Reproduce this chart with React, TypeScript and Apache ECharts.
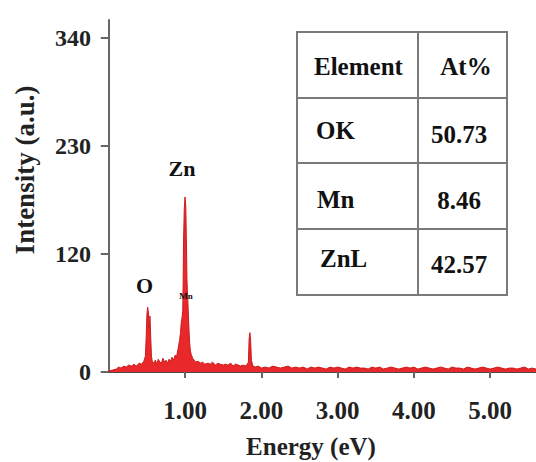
import React, { useEffect, useRef } from "react";
import * as echarts from "echarts";

// Spectrum points: energy (eV) and intensity (a.u.)
const energies: number[] = [
  0.0, 0.05, 0.1, 0.13, 0.16, 0.2, 0.23, 0.26, 0.3, 0.33, 0.36, 0.4, 0.43, 0.46, 0.48, 0.49, 0.5, 0.51, 0.52,
  0.53, 0.54, 0.55, 0.56, 0.57, 0.59, 0.61, 0.63, 0.65, 0.67, 0.69, 0.71, 0.73, 0.75, 0.77, 0.79, 0.81, 0.83,
  0.85, 0.87, 0.89, 0.91, 0.93, 0.94, 0.95, 0.96, 0.97, 0.975, 0.98, 0.99, 1.0, 1.01, 1.02, 1.025, 1.03, 1.04,
  1.05, 1.06, 1.07, 1.08, 1.1, 1.12, 1.14, 1.17, 1.2, 1.23, 1.26, 1.3, 1.33, 1.36, 1.4, 1.43, 1.46, 1.5,
  1.53, 1.56, 1.6, 1.63, 1.66, 1.7, 1.73, 1.76, 1.8, 1.83, 1.84, 1.85, 1.86, 1.87, 1.89, 1.92, 1.96, 2.0,
  2.05, 2.1, 2.15, 2.2, 2.25, 2.3, 2.35, 2.4, 2.45, 2.5, 2.55, 2.6, 2.65, 2.7, 2.75, 2.8, 2.85, 2.9, 2.95,
  3.0, 3.05, 3.1, 3.15, 3.2, 3.25, 3.3, 3.35, 3.4, 3.45, 3.5, 3.55, 3.6, 3.65, 3.7, 3.75, 3.8, 3.85, 3.9,
  3.95, 4.0, 4.05, 4.1, 4.15, 4.2, 4.25, 4.3, 4.35, 4.4, 4.45, 4.5, 4.55, 4.6, 4.65, 4.7, 4.75, 4.8, 4.85,
  4.9, 4.95, 5.0, 5.05, 5.1, 5.15, 5.2, 5.25, 5.3, 5.35, 5.4, 5.45, 5.5, 5.55, 5.6,
];
const intensities: number[] = [
  1, 2, 3, 5, 4, 6, 5, 7, 6, 8, 6, 9, 8, 11, 16, 34, 58, 66, 60,
  44, 57, 36, 16, 11, 9, 12, 8, 13, 10, 9, 14, 10, 12, 9, 13, 11, 15,
  12, 17, 16, 24, 33, 40, 50, 55, 62, 90, 132, 166, 178, 168, 122, 95, 84, 66,
  46, 30, 22, 18, 14, 12, 10, 11, 9, 10, 8, 9, 8, 10, 7, 9, 8, 7,
  8, 7, 9, 6, 8, 7, 6, 7, 6, 10, 34, 40, 32, 12, 6, 5, 6, 4,
  5, 4, 6, 5, 4, 5, 6, 4, 5, 4, 5, 3, 5, 4, 5, 4, 3, 5, 4,
  5, 4, 3, 5, 4, 5, 4, 4, 3, 5, 4, 5, 3, 4, 5, 4, 3, 4, 5,
  4, 5, 3, 4, 5, 4, 3, 4, 5, 4, 3, 5, 4, 4, 3, 5, 4, 3, 4,
  5, 4, 3, 4, 5, 4, 3, 4, 4, 3, 4, 5, 3, 4, 3,
];

const xTickValues: number[] = [1, 2, 3, 4, 5];
const yTickValues: number[] = [0, 120, 230, 340];

const tableHeader: string[] = ["Element", "At%"];
const tableElements: string[] = ["OK", "Mn", "ZnL"];
const tablePercents: string[] = ["50.73", "8.46", "42.57"];

const peakLabels: { name: string; energy: number; value: number; offset: number[]; size: number }[] = [
  { name: "Zn", energy: 1.0, value: 178, offset: [-3, -28], size: 22 },
  { name: "O", energy: 0.51, value: 66, offset: [-3, -22], size: 22 },
  { name: "Mn", energy: 1.0, value: 53, offset: [1, -24], size: 9 },
];

const FONT = "Liberation Serif";

export default function App() {
  const ref = useRef<HTMLDivElement>(null);
  useEffect(() => {
    if (!ref.current) return;
    const chart = echarts.init(ref.current, undefined, { renderer: "svg" });
    const data = energies.map((e, i) => [e, intensities[i]]);

    const tx = 297, ty = 32, tw = 210;
    const colX = 418;
    const rowYs = [32, 98, 163, 229, 295];
    const lineColor = "#7a7a7a";
    const tableEls: any[] = [
      { type: "rect", shape: { x: tx, y: ty, width: tw, height: rowYs[4] - ty }, style: { fill: "#fff", stroke: lineColor, lineWidth: 2 } },
      { type: "line", shape: { x1: colX, y1: ty, x2: colX, y2: rowYs[4] }, style: { stroke: lineColor, lineWidth: 2 } },
    ];
    for (let i = 1; i < 4; i++) {
      tableEls.push({ type: "line", shape: { x1: tx, y1: rowYs[i], x2: tx + tw, y2: rowYs[i] }, style: { stroke: lineColor, lineWidth: 2 } });
    }
    const txt = (s: string, x: number, y: number, align: string) => ({
      type: "text",
      x,
      y,
      style: { text: s, fill: "#111", fontFamily: FONT, fontWeight: "bold", fontSize: 25, align, verticalAlign: "middle" },
    });
    tableEls.push(txt(tableHeader[0], 314, 66, "left"));
    tableEls.push(txt(tableHeader[1], 466, 66, "center"));
    const elemX = [316, 317, 320];
    const elemY = [130, 199, 258];
    const pctY = [134, 200, 264];
    tableElements.forEach((el, i) => {
      tableEls.push(txt(el, elemX[i], elemY[i], "left"));
      tableEls.push(txt(tablePercents[i], 459, pctY[i], "center"));
    });

    chart.setOption({
      animation: false,
      backgroundColor: "#fff",
      grid: { left: 106, right: 0, top: 20, height: 352, outerBoundsMode: "none" },
      xAxis: {
        type: "value",
        min: -0.036,
        max: 5.6,
        name: "Energy (eV)",
        nameLocation: "middle",
        nameGap: 62,
        nameTextStyle: { fontFamily: FONT, fontWeight: "bold", fontSize: 25, color: "#222", padding: [0, 20, 0, 0] },
        axisLine: { lineStyle: { color: "#4a4a4a", width: 2 } },
        axisTick: { show: true, customValues: xTickValues, length: 6, lineStyle: { color: "#666", width: 2 } },
        axisLabel: {
          customValues: xTickValues,
          formatter: (v: number) => v.toFixed(2),
          fontFamily: FONT,
          fontWeight: "bold",
          fontSize: 25,
          color: "#222",
          margin: 26,
        },
        splitLine: { show: false },
      },
      yAxis: {
        type: "value",
        min: 0,
        max: 358,
        axisLine: { show: true, lineStyle: { color: "#666", width: 2 } },
        axisTick: { show: true, customValues: yTickValues, length: 8, lineStyle: { color: "#666", width: 2 } },
        axisLabel: {
          customValues: yTickValues,
          fontFamily: FONT,
          fontWeight: "bold",
          fontSize: 24,
          color: "#222",
          margin: 15,
        },
        splitLine: { show: false },
      },
      graphic: [
        {
          type: "text",
          x: 25,
          y: 170,
          rotation: Math.PI / 2,
          style: { text: "Intensity (a.u.)", fontFamily: FONT, fontWeight: "bold", fontSize: 27, fill: "#222", align: "center", verticalAlign: "middle" },
        },
        { type: "group", children: tableEls },
      ],
      series: [
        {
          type: "line",
          data,
          showSymbol: false,
          symbol: "none",
          lineStyle: { color: "#cc1c1c", width: 1 },
          areaStyle: { color: "#e8282b", opacity: 1 },
          markPoint: {
            symbol: "circle",
            symbolSize: 0,
            data: peakLabels.map((p) => ({
              coord: [p.energy, p.value],
              label: { show: true, formatter: p.name, offset: p.offset, fontFamily: FONT, fontWeight: "bold", fontSize: p.size, color: "#111" },
            })),
          },
        },
      ],
    });
    return () => chart.dispose();
  }, []);
  return <div ref={ref} style={{ position: "fixed", left: 0, top: 0, width: 536, height: 462 }} />;
}
